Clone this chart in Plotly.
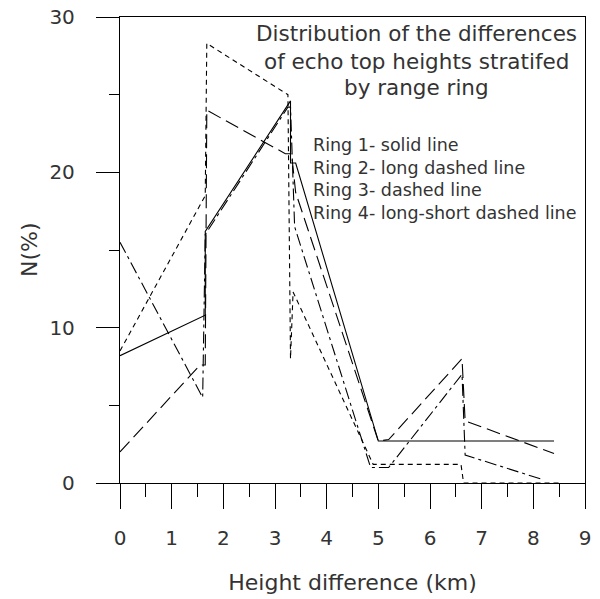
import plotly.graph_objects as go

# Ring 1 - solid line
ring1_x = [0, 1.65, 1.65, 3.3, 3.3, 3.4, 5.0, 8.4]
ring1_y = [8.2, 10.8, 16.2, 24.6, 20.6, 20.6, 2.7, 2.7]
# Ring 2 - long dashed line
ring2_x = [0, 1.55, 1.65, 1.68, 3.2, 3.32, 3.4, 5.0, 5.2, 6.62, 6.68, 8.4]
ring2_y = [2.0, 7.6, 7.6, 24.0, 21.2, 21.2, 18.7, 2.7, 2.8, 8.0, 4.0, 1.9]
# Ring 3 - dashed line
ring3_x = [0, 1.65, 1.68, 3.25, 3.3, 3.35, 4.9, 6.6, 6.65, 8.5]
ring3_y = [8.5, 18.5, 28.3, 25.0, 8.0, 12.3, 1.2, 1.2, 0.0, 0.0]
# Ring 4 - long-short dashed line
ring4_x = [0, 1.6, 1.65, 3.25, 3.3, 3.38, 4.85, 5.2, 6.62, 6.68, 8.2]
ring4_y = [15.5, 5.5, 16.0, 24.2, 24.2, 16.5, 1.0, 1.0, 7.0, 1.8, 0.2]

title_lines = ["Distribution of the differences",
               "of echo top heights stratifed",
               "by range ring"]
legend_lines = ["Ring 1- solid line",
                "Ring 2- long dashed line",
                "Ring 3- dashed line",
                "Ring 4- long-short dashed line"]
y_title = "N(%)"
x_title = "Height difference (km)"

x_ticks = [0, 1, 2, 3, 4, 5, 6, 7, 8, 9]
y_ticks = [0, 10, 20, 30]

FONT = "DejaVu Sans, Verdana, sans-serif"
TXT = "#333333"

fig = go.Figure()
styles = [
    (ring1_x, ring1_y, "solid"),
    (ring2_x, ring2_y, "14px,6px"),
    (ring3_x, ring3_y, "5px,4px"),
    (ring4_x, ring4_y, "12px,4px,3px,4px"),
]
for xs, ys, dash in styles:
    fig.add_trace(go.Scatter(x=xs, y=ys, mode="lines",
                             line=dict(color="black", width=1.1, dash=dash),
                             showlegend=False, hoverinfo="skip"))

# plot box at x 120..585, y 17..483 (body margin removed below)
fig.update_layout(
    width=600, height=599,
    margin=dict(l=120, r=15, t=17, b=116, autoexpand=False),
    paper_bgcolor="white", plot_bgcolor="white",
    font=dict(family=FONT, color=TXT),
    hovermode=False,
    xaxis=dict(range=[0, 9], tickvals=x_ticks, ticktext=[str(v) for v in x_ticks],
               ticks="outside", ticklen=25, tickwidth=1.3, tickcolor="black",
               minor=dict(dtick=0.5, ticks="outside", ticklen=13, tickwidth=1.3, tickcolor="black"),
               showgrid=False, zeroline=False, showline=True, linecolor="black", linewidth=1.3,
               mirror=True, automargin=False, ticklabeloverflow="allow",
               tickfont=dict(size=20, color=TXT), ticklabelstandoff=12,
               title=dict(text=x_title, font=dict(size=22, color=TXT), standoff=25)),
    yaxis=dict(range=[0, 30], tickvals=y_ticks, ticktext=[str(v) for v in y_ticks],
               ticks="outside", ticklen=23, tickwidth=1.3, tickcolor="black",
               minor=dict(dtick=5, ticks="outside", ticklen=10, tickwidth=1.3, tickcolor="black"),
               showgrid=False, zeroline=False, showline=True, linecolor="black", linewidth=1.3,
               mirror=True, automargin=False, ticklabeloverflow="allow",
               tickfont=dict(size=20, color=TXT), ticklabelstandoff=17),
)

# y-axis title placed precisely as a rotated annotation
fig.add_annotation(x=29, y=250, xref="paper", yref="paper", text=y_title,
                   textangle=-90, showarrow=False, font=dict(size=22, color=TXT),
                   xanchor="center", yanchor="middle")
for i, t in enumerate(title_lines):
    fig.add_annotation(x=416, y=[33, 61, 88][i], xref="paper", yref="paper",
                       text=t, showarrow=False, font=dict(size=21.5, color=TXT),
                       xanchor="center", yanchor="middle")
for i, t in enumerate(legend_lines):
    fig.add_annotation(x=311, y=[145, 167.5, 190, 212.5][i], xref="paper", yref="paper",
                       text=t, showarrow=False, font=dict(size=17.5, color=TXT),
                       xanchor="left", yanchor="middle")

# convert screenshot-pixel annotation positions to paper coords
for a in fig.layout.annotations:
    a.x = (a.x - 120) / 465
    a.y = (483 - a.y) / 466

fig.write_html("out.html", config={"displayModeBar": False},
               post_script="document.body.style.margin='0';")
